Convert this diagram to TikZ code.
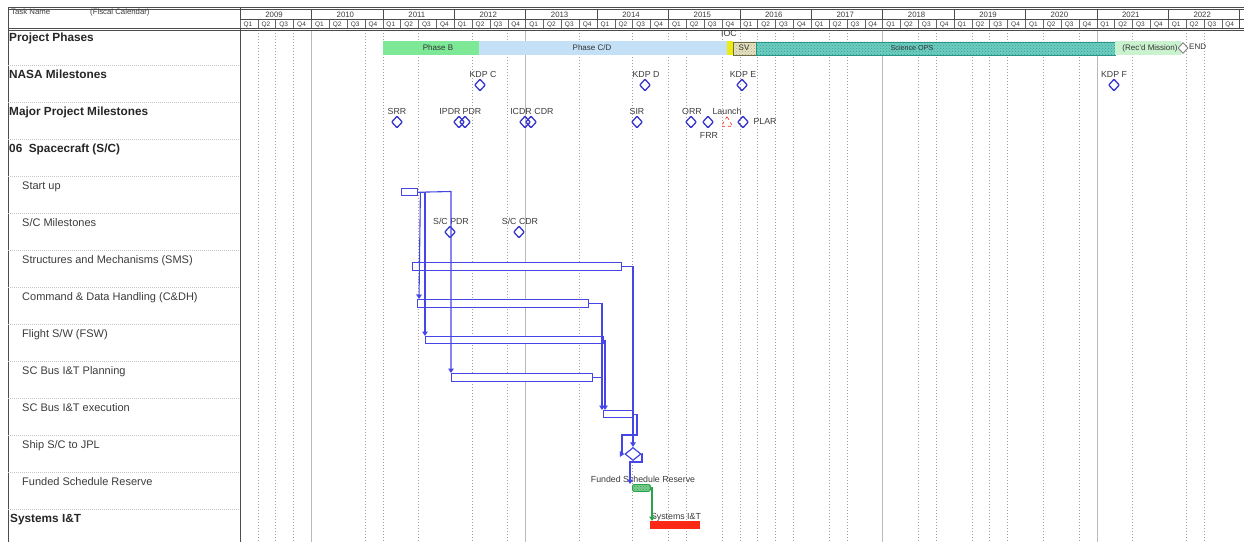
\documentclass[tikz,border=0pt]{standalone}
\usepackage{fontspec}
\setmainfont{Liberation Sans}
\usetikzlibrary{shapes.geometric,arrows.meta,calc,patterns}
\definecolor{msblue}{RGB}{55,55,205}
\definecolor{barblue}{RGB}{70,70,230}
\definecolor{phB}{RGB}{125,232,150}
\definecolor{phCD}{RGB}{196,224,247}
\definecolor{iocy}{RGB}{236,236,20}
\definecolor{svfill}{RGB}{230,226,190}
\definecolor{svdraw}{RGB}{110,110,70}
\definecolor{sci}{RGB}{110,205,192}
\definecolor{scidots}{RGB}{50,160,145}
\definecolor{scidraw}{RGB}{40,150,135}
\definecolor{recd}{RGB}{202,242,206}
\definecolor{fsrg}{RGB}{40,165,70}
\definecolor{sysred}{RGB}{250,40,20}
\definecolor{txt}{RGB}{60,60,60}
\begin{document}
\begin{tikzpicture}[x=1pt,y=-1pt,
  gridl/.style={gray!75, line width=0.6pt, dash pattern=on 0.8pt off 2.2pt},
  grids/.style={gray!55, line width=0.6pt},
  rowsep/.style={gray!45, line width=0.5pt, dash pattern=on 1pt off 1pt},
  frame/.style={black!70, line width=0.8pt},
  task/.style={anchor=base west, inner sep=0, font=\fontsize{11}{13}\selectfont, text=txt},
  taskb/.style={anchor=base west, inner sep=0, font=\bfseries\fontsize{11.8}{13}\selectfont, text=black!85},
  hdr/.style={inner sep=0, font=\fontsize{6.5}{7}\selectfont, text=txt},
  ms/.style={diamond, draw=msblue, line width=1.3pt, minimum width=11pt, minimum height=12pt, inner sep=0, rounded corners=0.8pt},
  mslab/.style={anchor=base, inner sep=0, font=\fontsize{8.8}{10}\selectfont, text=txt},
  phase/.style={anchor=north west, inner sep=0, minimum height=14pt},
  phlab/.style={inner sep=0, font=\fontsize{8}{9}\selectfont, text=black!80},
  bar/.style={anchor=north west, draw=barblue, fill=white, line width=1.4pt, inner sep=0, minimum height=7pt},
  conn/.style={draw=barblue, line width=1.1pt},
  arr/.style={conn, -{Triangle[width=5.5pt,length=4.5pt]}}]
\useasboundingbox[fill=white] (0,0) rectangle (1244,542);

% vertical grid lines in chart area
\foreach \q in {1,2,3,7,8,10,13,15,19,22,24,25,27,28,29,30,31,33,34,38,39,41,42,43,45,47,50,53,54}
  \draw[gridl] ({240+17.85*\q},30) -- ({240+17.85*\q},542);
\foreach \q in {4,16,36,48}
  \draw[grids] ({240+17.85*\q},30) -- ({240+17.85*\q},542);

% header
\draw[frame] (8,7) -- (1244,7);
\draw[frame] (8,9) -- (1244,9);
\draw[frame] (240,19.5) -- (1244,19.5);
\draw[frame] (8,28) -- (1244,28);
\draw[frame] (8,30) -- (1244,30);
\draw[frame] (8,7) -- (8,542);
\draw[frame] (240,7) -- (240,542);
\node[hdr, anchor=base west, font=\fontsize{7.8}{8}\selectfont] (tn) at (11,14) {Task Name};
\node[hdr, anchor=base west, font=\fontsize{7.8}{8}\selectfont] (fc) at (90,14) {(Fiscal Calendar)};
\foreach \y [count=\k from 0] in {2009,...,2022}{
  \draw[frame, line width=0.6pt] ({240+71.4*\k},9) -- ({240+71.4*\k},19.5);
  \node[hdr, font=\fontsize{7.8}{8}\selectfont] (y\y) at ({240+71.4*\k+34},15) {\y};
  \foreach \qq in {1,2,3,4}{
    \draw[black!60, line width=0.5pt] ({240+71.4*\k+17.85*(\qq-1)},19.5) -- ({240+71.4*\k+17.85*(\qq-1)},28);
    \node[hdr] (q\y\qq) at ({240+71.4*\k+17.85*(\qq-1)+8},24.5) {Q\qq};
  }
}
\draw[frame, line width=0.6pt] (1239.6,9) -- (1239.6,28);

% row separators in task column
\foreach \i in {1,...,13}
  \draw[rowsep] (8,{28+37*\i}) -- (240,{28+37*\i});

% task names
\node[taskb] (t0) at (9,41) {Project Phases};
\node[taskb] (t1) at (9,78) {NASA Milestones};
\node[taskb] (t2) at (9,115) {Major Project Milestones};
\node[taskb] (t3) at (9,152) {06\ \ Spacecraft (S/C)};
\node[task] (t4) at (22,189) {Start up};
\node[task] (t5) at (22,226) {S/C Milestones};
\node[task] (t6) at (22,263) {Structures and Mechanisms (SMS)};
\node[task] (t7) at (22,300) {Command \& Data Handling (C\&DH)};
\node[task] (t8) at (22,337) {Flight S/W (FSW)};
\node[task] (t9) at (22,374) {SC Bus I\&T Planning};
\node[task] (t10) at (22,411) {SC Bus I\&T execution};
\node[task] (t11) at (22,448) {Ship S/C to JPL};
\node[task] (t12) at (22,485) {Funded Schedule Reserve};
\node[taskb] (t13) at (10,522) {Systems I\&T};

% project phases
\node[phase, fill=phB, minimum width=96pt] (phb) at (383,41) {};
\node[phase, fill=phCD, minimum width=248pt] (phcd) at (479,41) {};
\node[phase, fill=iocy, minimum width=6pt] (ioc) at (727,41) {};
\node[phase, fill=svfill, minimum width=23pt, minimum height=13pt] (sv) at (733,41.5) {};
\node[phase, pattern=crosshatch dots, pattern color=svdraw!60, draw=svdraw, line width=0.6pt, minimum width=23pt, minimum height=13pt] (svp) at (733,41.5) {};
\node[phase, fill=sci, minimum width=359pt, minimum height=13pt] (sci) at (756,41.5) {};
\node[phase, pattern=crosshatch dots, pattern color=scidots, draw=scidraw, line width=0.8pt, minimum width=359pt, minimum height=13pt] (scip) at (756,41.5) {};
\node[phase, fill=recd, minimum width=66pt] (rec) at (1115,41) {};
\node[phlab] (lphb) at (438,48) {Phase B};
\node[phlab] (lphcd) at (592,48) {Phase C/D};
\node[phlab] (lsv) at (744,48) {SV};
\node[phlab, font=\fontsize{7.2}{8}\selectfont] (lsci) at (912,48) {Science OPS};
\node[phlab] (lrec) at (1150,48) {(Rec'd Mission)};
\node[mslab] (lioc) at (729,36) {IOC};
\node[diamond, draw=gray, fill=white, line width=0.9pt, minimum width=10pt, minimum height=11pt, inner sep=0] (endm) at (1183,48) {};
\node[phlab, anchor=west] (lend) at (1189,47) {END};

% NASA milestones
\node[ms] (kdpc) at (480,85) {};
\node[mslab] (lkdpc) at (483,77) {KDP C};
\node[ms] (kdpd) at (645,85) {};
\node[mslab] (lkdpd) at (646,77) {KDP D};
\node[ms] (kdpe) at (742,85) {};
\node[mslab] (lkdpe) at (743,77) {KDP E};
\node[ms] (kdpf) at (1114,85) {};
\node[mslab] (lkdpf) at (1114,77) {KDP F};

% Major project milestones
\node[ms] (srr) at (397,122) {};
\node[mslab] (lsrr) at (397,114) {SRR};
\node[ms] (ipdr) at (459,122) {};
\node[ms] (pdr) at (465,122) {};
\node[mslab] (lipdr) at (450,114) {IPDR};
\node[mslab] (lpdr) at (472,114) {PDR};
\node[ms] (icdr) at (525,122) {};
\node[ms] (cdr) at (531,122) {};
\node[mslab] (licdr) at (521,114) {ICDR};
\node[mslab] (lcdr) at (544,114) {CDR};
\node[ms] (sir) at (637,122) {};
\node[mslab] (lsir) at (637,114) {SIR};
\node[ms] (orr) at (691,122) {};
\node[mslab] (lorr) at (692,114) {ORR};
\node[ms] (frr) at (708,122) {};
\node[mslab] (lfrr) at (709,138) {FRR};
\node[regular polygon, regular polygon sides=3, draw=sysred, dashed, line width=0.6pt, minimum size=13pt, inner sep=0] (launch) at (727,123) {};
\node[mslab] (llaunch) at (727,114) {Launch};
\node[ms] (plar) at (743,122) {};
\node[mslab] (lplar) at (765,124) {PLAR};

% S/C milestones
\node[ms] (scpdr) at (450,232) {};
\node[mslab] (lscpdr) at (451,224) {S/C PDR};
\node[ms] (sccdr) at (519,232) {};
\node[mslab] (lsccdr) at (520,224) {S/C CDR};

% task bars
\node[bar, minimum width=16pt] (startup) at (401,188) {};
\node[bar, minimum width=209pt, minimum height=8pt] (sms) at (412,262) {};
\node[bar, minimum width=171pt, minimum height=8pt] (cdh) at (417,299) {};
\node[bar, minimum width=178pt] (fsw) at (425,336) {};
\node[bar, minimum width=141pt, minimum height=8pt] (plan) at (451,373) {};
\node[bar, minimum width=29pt] (exec) at (603,410) {};
\node[diamond, draw=barblue, fill=white, line width=1.2pt, minimum width=16pt, minimum height=13pt, inner sep=0] (ship) at (633,454) {};
\node[anchor=north west, fill=fsrg!60, inner sep=0, rounded corners=1.5pt, minimum width=18pt, minimum height=7pt] (fsrbg) at (632,484) {};
\node[anchor=north west, draw=fsrg, pattern=crosshatch dots, pattern color=fsrg, line width=0.8pt, rounded corners=1.5pt, inner sep=0, minimum width=18pt, minimum height=7pt] (fsr) at (632,484) {};
\node[anchor=north west, fill=sysred, inner sep=0, minimum width=50pt, minimum height=8pt] (sysit) at (650,521) {};
\node[mslab] (lfsr) at (643,482) {Funded Schedule Reserve};
\node[mslab] (lsysit) at (676,519) {Systems I\&T};

% connectors
\coordinate (c1) at (451,191.5);
\draw[arr] (startup.east) -- (c1) -- (plan.north west);
\draw[arr] ([xshift=2pt]startup.east) -- ([xshift=2pt]cdh.north west);
\draw[arr] (startup.east) -| (fsw.north west);
\draw[arr] (sms.east) -| (ship.north);
\draw[arr] (cdh.east) -| ([xshift=-1pt]exec.north west);
\draw[arr] (fsw.east) -| ([xshift=2pt]exec.north west);
\draw[conn] (plan.east) -- ([xshift=-1pt]exec.north west |- plan.east);
\coordinate (b1) at (637,435);
\coordinate (b2) at (622,435);
\draw[arr] (exec.east) -| (b1) -- (b2) |- (ship.west);
\coordinate (b3) at (642,462);
\draw[arr] (ship.east) -| (b3) -| ([xshift=-2pt]fsr.north west);
\draw[fsrg, line width=1.1pt, -{Triangle[width=5.5pt,length=4.5pt]}] (fsr.east) -| ([xshift=2pt]sysit.north west);
\end{tikzpicture}
\end{document}
